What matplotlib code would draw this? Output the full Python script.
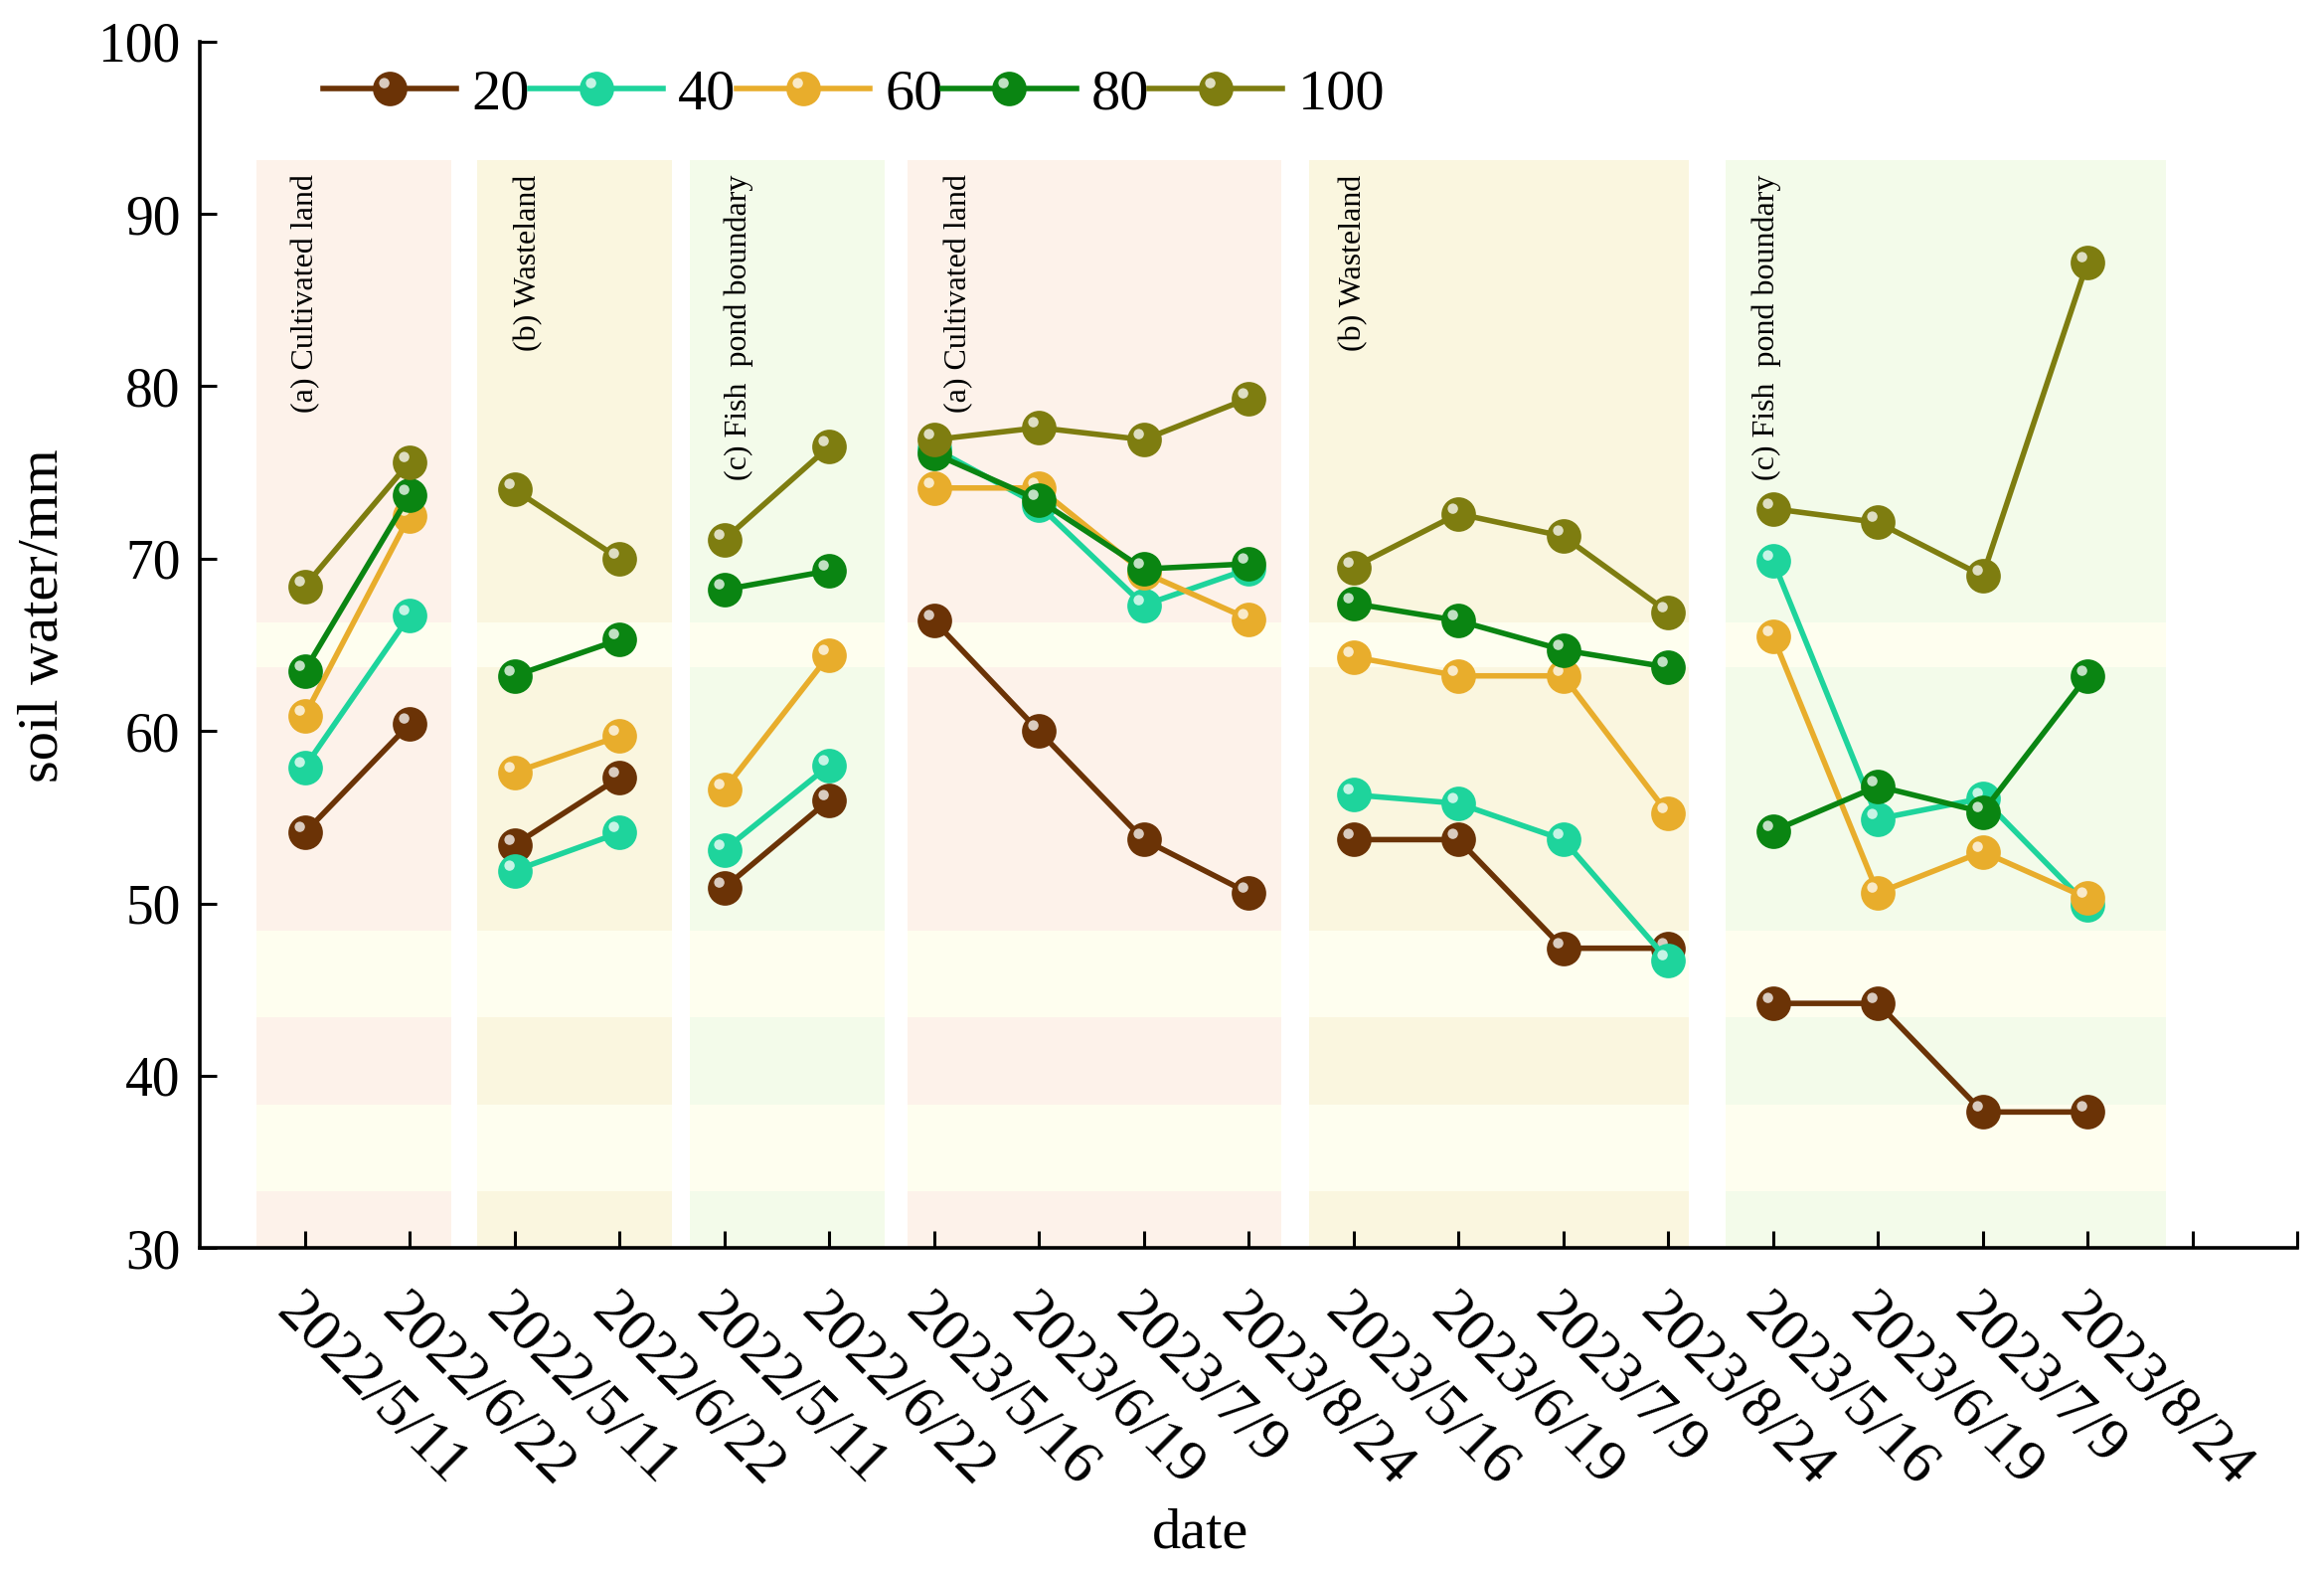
import numpy as np
import matplotlib
matplotlib.use("Agg")
from matplotlib import pyplot as plt
from matplotlib.patches import Rectangle
from matplotlib.path import Path
from matplotlib.legend_handler import HandlerTuple

plt.rcParams['font.family'] = ['Liberation Serif', 'DejaVu Serif']

dates = ['2022/5/11', '2022/6/22', '2022/5/11', '2022/6/22', '2022/5/11', '2022/6/22',
         '2023/5/16', '2023/6/19', '2023/7/9', '2023/8/24',
         '2023/5/16', '2023/6/19', '2023/7/9', '2023/8/24',
         '2023/5/16', '2023/6/19', '2023/7/9', '2023/8/24']

# index ranges of each site/season group (lines are not joined between groups)
groups = [(0, 2), (2, 4), (4, 6), (6, 10), (10, 14), (14, 18)]
group_names = ['(a) Cultivated land', '(b) Wasteland', '(c) Fish  pond boundary',
               '(a) Cultivated land', '(b) Wasteland', '(c) Fish  pond boundary']

depths = ['20', '40', '60', '80', '100']
d20 = [54.1, 60.4, 53.4, 57.3, 50.9, 56.0, 66.4, 60.0, 53.7, 50.6,
       53.7, 53.7, 47.4, 47.4, 44.2, 44.2, 37.9, 37.9]
d40 = [57.9, 66.7, 51.9, 54.1, 53.1, 58.0, 76.4, 73.1, 67.3, 69.4,
       56.3, 55.8, 53.7, 46.7, 69.9, 54.9, 56.1, 49.9]
d60 = [60.9, 72.5, 57.6, 59.7, 56.6, 64.4, 74.1, 74.1, 69.2, 66.5,
       64.3, 63.2, 63.2, 55.2, 65.5, 50.6, 53.0, 50.3]
d80 = [63.5, 73.7, 63.2, 65.3, 68.2, 69.3, 76.1, 73.4, 69.4, 69.7,
       67.4, 66.4, 64.7, 63.7, 54.2, 56.8, 55.3, 63.2]
d100 = [68.4, 75.6, 74.0, 70.0, 71.1, 76.5, 76.9, 77.6, 76.9, 79.3,
        69.5, 72.6, 71.3, 66.9, 72.9, 72.1, 69.0, 87.2]
series = [d20, d40, d60, d80, d100]
colors = ['#6b3306', '#1ed49c', '#e8ad2c', '#0a8512', '#7e7d10']

# background panels (x extent in category units) and horizontal bands
panel_left = [-0.46, 1.64, 3.67, 5.75, 9.58, 13.55]
panel_right = [1.40, 3.50, 5.53, 9.31, 13.20, 17.75]
panel_colors = ['#fdf2ea', '#faf6df', '#f3fbea', '#fdf2ea', '#faf6df', '#f3fbea']
band_color = '#fefeef'
panel_top = 93.1
light_bands = [(63.7, 66.3), (43.4, 48.4), (33.3, 38.3)]


def sphere_highlight():
    # small circle up-left of centre; corner moveto keeps marker scale fixed
    circ = Path.circle((-0.17, 0.17), 0.15)
    verts = np.vstack([[0.5, 0.5], [-0.5, -0.5], circ.vertices])
    codes = np.concatenate([[Path.MOVETO, Path.MOVETO], circ.codes])
    return Path(verts, codes)


fig = plt.figure(figsize=(11.69, 7.905), dpi=200)
ax = fig.add_axes([0.086, 0.206, 0.9025, 0.7676])

for left, right, col in zip(panel_left, panel_right, panel_colors):
    ax.add_patch(Rectangle((left, 30), right - left, panel_top - 30,
                           facecolor=col, edgecolor='none', zorder=0))
    for lo, hi in light_bands:
        ax.add_patch(Rectangle((left, lo), right - left, hi - lo,
                               facecolor=band_color, edgecolor='none', zorder=0.5))

hl = sphere_highlight()
x = np.arange(len(dates))
handles = []
for vals, col, name in zip(series, colors, depths):
    vals = np.array(vals)
    for a, b in groups:
        line, = ax.plot(x[a:b], vals[a:b], '-o', color=col, lw=2.0, ms=12.5,
                        mew=0, zorder=3)
        hi, = ax.plot(x[a:b], vals[a:b], ls='none', marker=hl, ms=12.5,
                      mfc='white', mew=0, alpha=0.75, zorder=3)
    handles.append((line, hi))

label_x = [0.01, 2.13, 4.14, 6.24, 10.0, 13.94]
for lx, txt in zip(label_x, group_names):
    ax.text(lx, 92.3, txt, rotation=90, ha='center', va='top', fontsize=11.5, zorder=2)

ax.set_xlim(-1, 19)
ax.set_ylim(30, 100)
ax.set_xticks(np.arange(20))
ax.set_xticklabels(dates + ['', ''], rotation=-45, ha='left', va='top',
                   rotation_mode='anchor', fontsize=22)
ax.set_yticks(np.arange(30, 101, 10))
ax.tick_params(axis='y', labelsize=20, direction='in', length=6, width=1.1, pad=7)
ax.tick_params(axis='x', direction='in', length=6, width=1.1, pad=13)
for side in ['top', 'right']:
    ax.spines[side].set_visible(False)
for side in ['left', 'bottom']:
    ax.spines[side].set_linewidth(1.3)

ax.set_ylabel('soil water/mm', fontsize=21)
ax.yaxis.set_label_coords(-0.062, 0.524)
ax.set_xlabel('date', fontsize=21)
ax.xaxis.set_label_coords(0.477, -0.215)

ax.legend(handles=handles, labels=depths, handler_map={tuple: HandlerTuple(ndivide=1)},
          loc='center left', bbox_to_anchor=(0.0588, 0.956), ncol=5, frameon=False,
          fontsize=21, handlelength=2.3, handletextpad=0.26, columnspacing=0.0,
          borderpad=0, borderaxespad=0)

fig.savefig('out.png', dpi=200)
